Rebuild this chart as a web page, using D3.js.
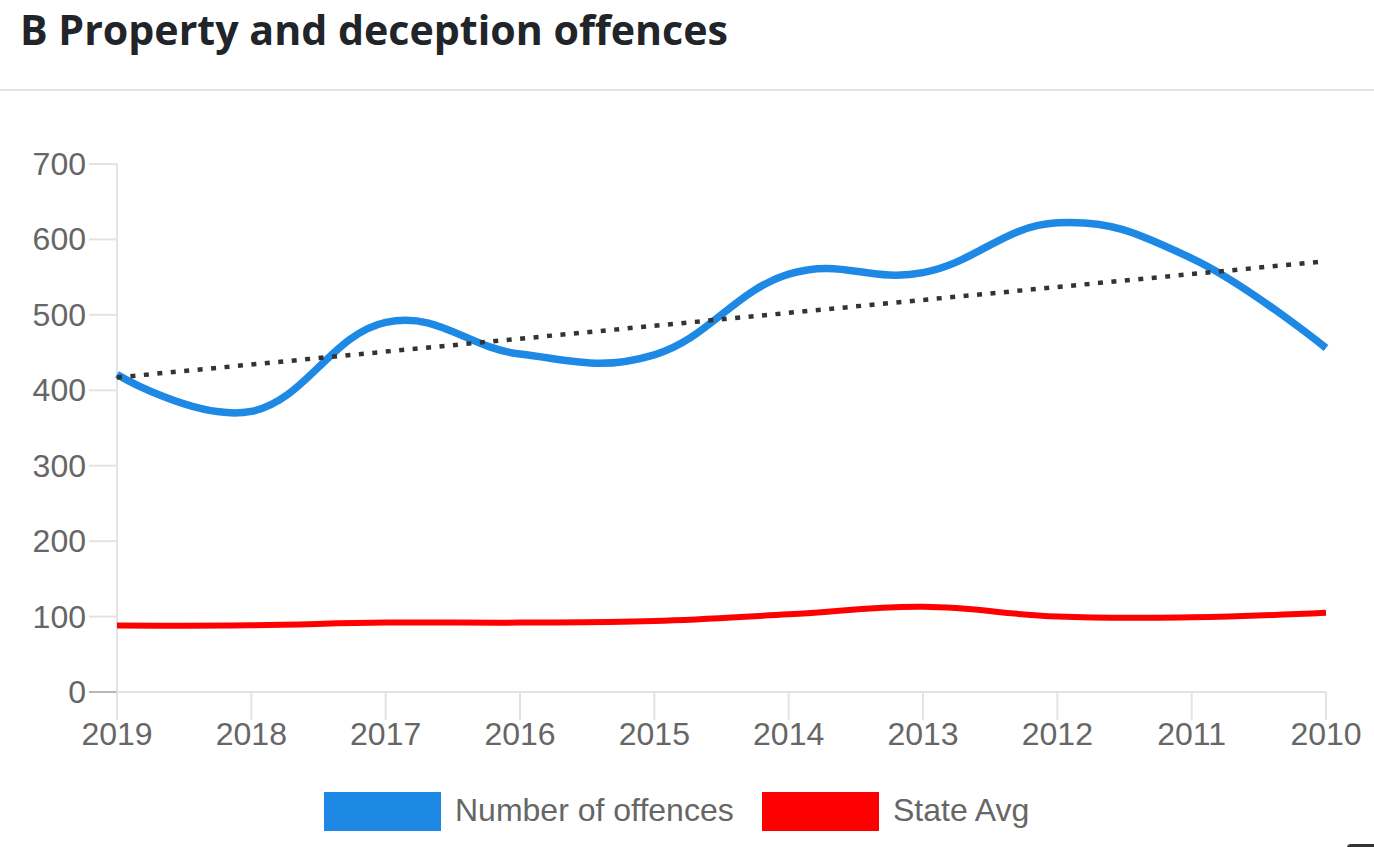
<!DOCTYPE html>
<html>
<head>
<meta charset="utf-8">
<script src="https://cdn.jsdelivr.net/npm/d3@7/dist/d3.min.js"></script>
<style>
	html, body { margin: 0; padding: 0; background: #fff; }
	svg { display: block; }
	.tick-label { font-family: "Liberation Sans", Arial, sans-serif; fill: #666; }
</style>
</head>
<body>
<div id="chart"></div>
<script>
// chart values
var years = ['2019', '2018', '2017', '2016', '2015', '2014', '2013', '2012', '2011', '2010']
	, offences = [421, 372, 490, 448, 447, 554, 556, 622, 575, 456]
	, stateAvg = [88, 88.5, 92, 92, 94, 103, 113, 100, 99, 105]
	, yTicks = [0, 100, 200, 300, 400, 500, 600, 700]
	, legendItems = ['Number of offences', 'State Avg']
	;

var W = 1374
	, H = 847
	, plotLeft = 117
	, plotRight = 1326
	, plotTop = 164
	, plotBottom = 692
	, blue = '#1e88e5'
	, red = '#ff0000'
	;

var svg = d3.select('#chart').append('svg').attr('width', W).attr('height', H);

// title + rule
svg.append('text').attr('x', 20).attr('y', 45)
	.attr('font-family', '"Open Sans", "Noto Sans", sans-serif').attr('font-weight', 700)
	.attr('font-size', 41).attr('fill', '#212529')
	.attr('textLength', 708).attr('lengthAdjust', 'spacingAndGlyphs')
	.text('B Property and deception offences');
svg.append('rect').attr('x', 0).attr('y', 89).attr('width', W).attr('height', 2).attr('fill', '#e2e2e2');

var x = d3.scalePoint().domain(years).range([plotLeft, plotRight])
	, y = d3.scaleLinear().domain([0, 700]).range([plotBottom, plotTop])
	;

// y axis: short ticks at the left, no grid
var yAxis = svg.append('g');
yAxis.append('line').attr('x1', plotLeft).attr('x2', plotLeft).attr('y1', plotTop).attr('y2', plotBottom + 28)
	.attr('stroke', '#e3e3e3').attr('stroke-width', 2);
yAxis.selectAll('line.yt').data(yTicks).enter().append('line').attr('class', 'yt')
	.attr('x1', plotLeft - 28).attr('x2', plotLeft).attr('y1', function(d){ return y(d); }).attr('y2', function(d){ return y(d); })
	.attr('stroke', function(d){ return d === 0 ? '#b8b8b8' : '#e3e3e3'; }).attr('stroke-width', 2);
yAxis.selectAll('text').data(yTicks).enter().append('text').attr('class', 'tick-label')
	.attr('x', plotLeft - 31).attr('y', function(d){ return y(d) + 11; })
	.attr('text-anchor', 'end').attr('font-size', 32)
	.text(function(d){ return d; });

// x axis
var xAxis = svg.append('g');
xAxis.append('line').attr('x1', plotLeft).attr('x2', plotRight).attr('y1', plotBottom).attr('y2', plotBottom)
	.attr('stroke', '#e3e3e3').attr('stroke-width', 2);
xAxis.selectAll('line.xt').data(years).enter().append('line').attr('class', 'xt')
	.attr('x1', function(d){ return x(d); }).attr('x2', function(d){ return x(d); })
	.attr('y1', plotBottom).attr('y2', plotBottom + 28)
	.attr('stroke', '#e3e3e3').attr('stroke-width', 2);
xAxis.selectAll('text').data(years).enter().append('text').attr('class', 'tick-label')
	.attr('x', function(d){ return x(d); }).attr('y', plotBottom + 53)
	.attr('text-anchor', 'middle').attr('font-size', 32)
	.text(function(d){ return d; });

// lines, chart.js-ish tension 0.4 ~ cardinal(-0.2)
var line = d3.line()
	.x(function(d, i){ return x(years[i]); })
	.y(function(d){ return y(d); })
	.curve(d3.curveCardinal.tension(-0.2));

svg.append('path').datum(stateAvg).attr('d', line)
	.attr('fill', 'none').attr('stroke', red).attr('stroke-width', 6);
svg.append('path').datum(offences).attr('d', line)
	.attr('fill', 'none').attr('stroke', blue).attr('stroke-width', 7.5);

// trend line: least squares over the offences
var n = offences.length
	, mx = d3.mean(offences, function(d, i){ return i; })
	, my = d3.mean(offences)
	, sxy = d3.sum(offences, function(d, i){ return (i - mx) * (d - my); })
	, sxx = d3.sum(offences, function(d, i){ return (i - mx) * (i - mx); })
	, slope = sxy / sxx
	, trend = [my - slope * mx, my + slope * (n - 1 - mx)]
	;
svg.append('line')
	.attr('x1', x(years[0])).attr('y1', y(trend[0]))
	.attr('x2', x(years[n - 1])).attr('y2', y(trend[1]))
	.attr('stroke', '#333').attr('stroke-width', 4.5).attr('stroke-dasharray', '5 8.5');

// legend
var legend = svg.append('g')
	, lx = [324, 762]
	, colors = [blue, red]
	;
legend.selectAll('rect').data(legendItems).enter().append('rect')
	.attr('x', function(d, i){ return lx[i]; }).attr('y', 792).attr('width', 117).attr('height', 39)
	.attr('fill', function(d, i){ return colors[i]; });
legend.selectAll('text').data(legendItems).enter().append('text').attr('class', 'tick-label')
	.attr('x', function(d, i){ return lx[i] + 131; }).attr('y', 821)
	.attr('font-size', 32)
	.text(function(d){ return d; });

// small dark widget edge, bottom right corner
svg.append('rect').attr('x', 1347).attr('y', 844).attr('width', 40).attr('height', 10).attr('rx', 4).attr('fill', '#333');
</script>
</body>
</html>
